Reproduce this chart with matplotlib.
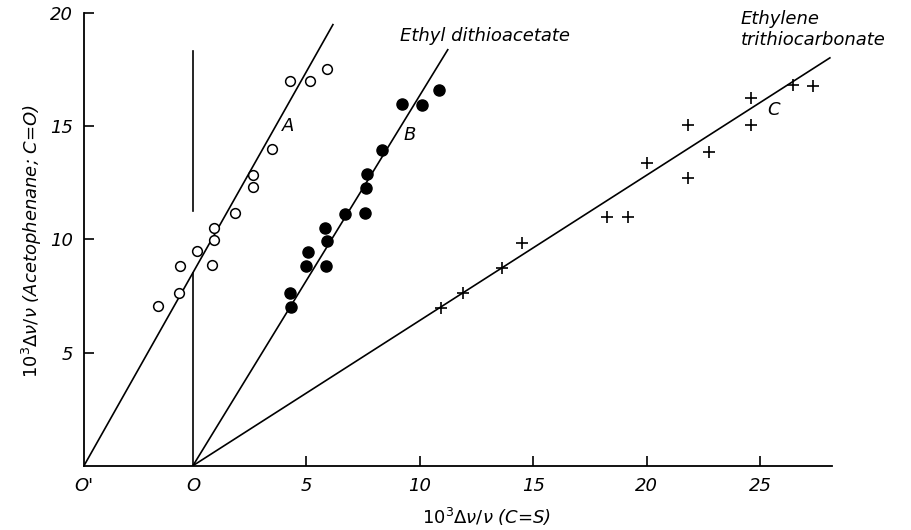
import matplotlib
matplotlib.use("Agg")
import matplotlib.pyplot as plt

# ---- data ----
# Series A (open circles), plotted against shifted origin O'
a_x = [-1.52, -0.63, -0.59, 0.18, 0.86, 0.94, 0.94, 1.86, 2.64, 2.64, 3.48, 4.29, 5.14, 5.90]
a_y = [7.04, 7.63, 8.84, 9.47, 8.87, 9.96, 10.50, 11.17, 12.32, 12.86, 14.01, 16.99, 16.99, 17.55]

# Series B (filled circles) - Ethyl dithioacetate
b_x = [4.32, 4.29, 4.99, 5.07, 5.87, 5.90, 5.82, 6.71, 7.59, 7.62, 7.67, 8.33, 9.21, 10.11, 10.86]
b_y = [7.01, 7.63, 8.81, 9.44, 8.81, 9.94, 10.53, 11.14, 11.17, 12.27, 12.89, 13.97, 16.00, 15.95, 16.59]

# Series C (crosses) - Ethylene trithiocarbonate
c_x = [10.93, 11.88, 13.61, 14.49, 18.24, 19.19, 20.03, 21.83, 21.83, 22.76, 24.58, 24.58, 26.43, 27.34]
c_y = [6.99, 7.63, 8.73, 9.84, 10.99, 10.99, 13.38, 12.74, 15.08, 13.85, 15.08, 16.26, 16.84, 16.80]

# fitted straight lines (end points)
o_prime = -4.8
a_fit_x = [o_prime, 6.17]
a_fit_y = [0.0, 19.5]
b_fit_x = [0.0, 11.23]
b_fit_y = [0.0, 18.39]
c_fit_x = [0.0, 28.07]
c_fit_y = [0.0, 18.03]

# vertical reference line at x=0 (interrupted around the points)
vline_lower = [0.0, 8.53]
vline_upper = [11.24, 18.32]

x_ticks = [o_prime, 0, 5, 10, 15, 20, 25]
x_tick_labels = ["O'", "O", "5", "10", "15", "20", "25"]
y_ticks = [5, 10, 15, 20]
y_tick_labels = ["5", "10", "15", "20"]

# ---- figure ----
plt.rcParams['font.family'] = ['DejaVu Sans']
plt.rcParams['mathtext.default'] = 'it'
plt.rcParams['mathtext.fontset'] = 'dejavusans'

W, H = 911, 530
fig = plt.figure(figsize=(W / 100, H / 100), dpi=100)
ax = fig.add_axes([84 / W, (H - 465.7) / H, (831.7 - 84) / W, (465.7 - 13.3) / H])
ax.set_xlim(o_prime, 28.15)
ax.set_ylim(0, 20)

for s in ['top', 'right']:
    ax.spines[s].set_visible(False)
for s in ['left', 'bottom']:
    ax.spines[s].set_linewidth(1.3)

lw = 1.2
ax.plot(a_fit_x, a_fit_y, color='black', lw=lw, zorder=2)
ax.plot(b_fit_x, b_fit_y, color='black', lw=lw, zorder=2)
ax.plot(c_fit_x, c_fit_y, color='black', lw=lw, zorder=2)
ax.plot([0, 0], vline_lower, color='black', lw=lw, zorder=2)
ax.plot([0, 0], vline_upper, color='black', lw=lw, zorder=2)

ax.plot(a_x, a_y, 'o', ms=7, mfc='white', mec='black', mew=1.1, ls='none', zorder=3, clip_on=False)
ax.plot(b_x, b_y, 'o', ms=8, mfc='black', mec='black', ls='none', zorder=3, clip_on=False)
ax.plot(c_x, c_y, '+', ms=9, mec='black', mew=1.2, ls='none', zorder=3, clip_on=False)

ax.set_xticks(x_ticks)
ax.set_xticklabels(x_tick_labels)
ax.set_yticks(y_ticks)
ax.set_yticklabels(y_tick_labels)
ax.tick_params(direction='in', length=7, width=1.2, labelsize=13, pad=8)
# no tick marks at the two origins
for t in ax.xaxis.get_major_ticks()[:2]:
    t.tick1line.set_visible(False)
for lab in ax.get_xticklabels() + ax.get_yticklabels():
    lab.set_fontstyle('italic')

txt = dict(fontsize=13, fontstyle='italic', color='black')
ax.text(4.21, 15.03, 'A', ha='center', va='center', **txt)
ax.text(9.57, 14.63, 'B', ha='center', va='center', **txt)
ax.text(25.58, 15.74, 'C', ha='center', va='center', **txt)
ax.text(12.88, 18.98, 'Ethyl dithioacetate', ha='center', va='center', **txt)
ax.text(24.15, 19.27, 'Ethylene\ntrithiocarbonate', ha='left', va='center',
        linespacing=1.2, **txt)

fig.text(32 / W, 1 - 241 / H, r'$10^3\Delta\nu/\nu$ (Acetophenane; C=O)',
         rotation=90, ha='center', va='center', **txt)
fig.text(486.7 / W, 1 - 517 / H, r'$10^3\Delta\nu/\nu$ (C=S)',
         ha='center', va='center', **txt)

fig.savefig('out.png', dpi=100)
